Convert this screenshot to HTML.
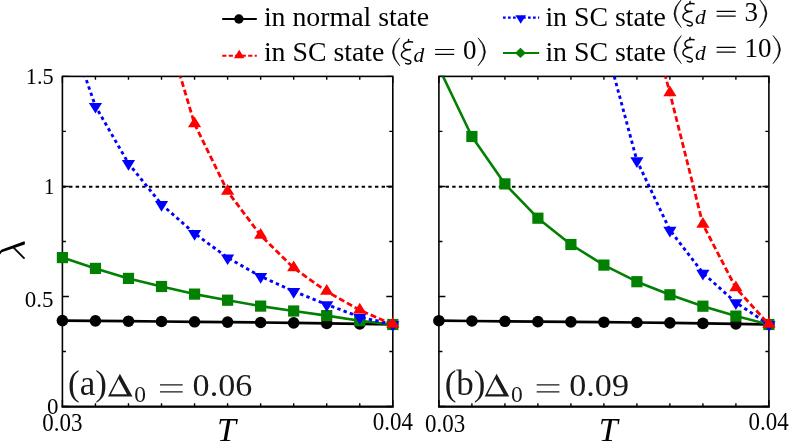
<!DOCTYPE html><html><head><meta charset="utf-8"><style>html,body{margin:0;padding:0;background:#fff;width:789px;height:441px;overflow:hidden;font-family:"Liberation Serif",serif}</style></head><body><svg width="789" height="441" viewBox="0 0 789 441" style="position:absolute;left:0;top:0;will-change:transform;opacity:0.999">
<defs><clipPath id="ca"><rect x="62.4" y="76.4" width="330.40" height="330.10"/></clipPath><clipPath id="cb"><rect x="438.9" y="76.4" width="330.00" height="330.10"/></clipPath></defs>
<path d="M62.40,406.5 v-6.5 M62.40,76.4 v6.5 M95.44,406.5 v-3.3 M95.44,76.4 v3.3 M128.48,406.5 v-3.3 M128.48,76.4 v3.3 M161.52,406.5 v-3.3 M161.52,76.4 v3.3 M194.56,406.5 v-3.3 M194.56,76.4 v3.3 M227.60,406.5 v-3.3 M227.60,76.4 v3.3 M260.64,406.5 v-3.3 M260.64,76.4 v3.3 M293.68,406.5 v-3.3 M293.68,76.4 v3.3 M326.72,406.5 v-3.3 M326.72,76.4 v3.3 M359.76,406.5 v-3.3 M359.76,76.4 v3.3 M392.80,406.5 v-6.5 M392.80,76.4 v6.5 M62.4,406.50 h6.5 M392.8,406.50 h-6.5 M62.4,351.48 h3.5 M392.8,351.48 h-3.5 M62.4,296.47 h6.5 M392.8,296.47 h-6.5 M62.4,241.45 h3.5 M392.8,241.45 h-3.5 M62.4,186.43 h6.5 M392.8,186.43 h-6.5 M62.4,131.42 h3.5 M392.8,131.42 h-3.5 M62.4,76.40 h6.5 M392.8,76.40 h-6.5" stroke="#000" stroke-width="1.4" fill="none"/>
<rect x="62.4" y="76.4" width="330.40" height="330.10" fill="none" stroke="#000" stroke-width="1.6"/><path d="M61.6,406.85 H393.6" stroke="#000" stroke-width="2" fill="none"/>
<path d="M62.4,186.78 H392.8" stroke="#000" stroke-width="2" stroke-dasharray="3.4 3.25" fill="none"/>
<g clip-path="url(#ca)"><polyline points="62.40,320.60 95.44,320.90 128.48,321.20 161.52,321.50 194.56,321.80 227.60,322.10 260.64,322.50 293.68,322.90 326.72,323.40 359.76,323.90 392.80,324.50" fill="none" stroke="#000000" stroke-width="2.7" stroke-linejoin="round"/></g>
<circle cx="62.40" cy="320.60" r="5.8" fill="#000000"/>
<circle cx="95.44" cy="320.90" r="5.8" fill="#000000"/>
<circle cx="128.48" cy="321.20" r="5.8" fill="#000000"/>
<circle cx="161.52" cy="321.50" r="5.8" fill="#000000"/>
<circle cx="194.56" cy="321.80" r="5.8" fill="#000000"/>
<circle cx="227.60" cy="322.10" r="5.8" fill="#000000"/>
<circle cx="260.64" cy="322.50" r="5.8" fill="#000000"/>
<circle cx="293.68" cy="322.90" r="5.8" fill="#000000"/>
<circle cx="326.72" cy="323.40" r="5.8" fill="#000000"/>
<circle cx="359.76" cy="323.90" r="5.8" fill="#000000"/>
<circle cx="392.80" cy="324.50" r="5.8" fill="#000000"/>
<g clip-path="url(#ca)"><polyline points="62.40,257.60 95.44,268.40 128.48,278.40 161.52,286.50 194.56,294.10 227.60,300.20 260.64,306.10 293.68,311.00 326.72,315.60 359.76,320.70 392.80,324.50" fill="none" stroke="#008000" stroke-width="2.6" stroke-linejoin="round"/></g>
<rect x="56.80" y="252.00" width="11.20" height="11.20" fill="#008000"/>
<rect x="89.84" y="262.80" width="11.20" height="11.20" fill="#008000"/>
<rect x="122.88" y="272.80" width="11.20" height="11.20" fill="#008000"/>
<rect x="155.92" y="280.90" width="11.20" height="11.20" fill="#008000"/>
<rect x="188.96" y="288.50" width="11.20" height="11.20" fill="#008000"/>
<rect x="222.00" y="294.60" width="11.20" height="11.20" fill="#008000"/>
<rect x="255.04" y="300.50" width="11.20" height="11.20" fill="#008000"/>
<rect x="288.08" y="305.40" width="11.20" height="11.20" fill="#008000"/>
<rect x="321.12" y="310.00" width="11.20" height="11.20" fill="#008000"/>
<rect x="354.16" y="315.10" width="11.20" height="11.20" fill="#008000"/>
<rect x="387.20" y="318.90" width="11.20" height="11.20" fill="#008000"/>
<g clip-path="url(#ca)"><polyline points="62.40,11.00 95.44,106.20 128.48,163.40 161.52,204.40 194.56,233.40 227.60,257.70 260.64,276.40 293.68,291.30 326.72,304.50 359.76,317.00 392.80,324.50" fill="none" stroke="#0000ff" stroke-width="2.9" stroke-dasharray="3.4 3.25" stroke-linejoin="round"/></g>
<path d="M95.44,113.59 L88.84,102.90 L102.04,102.90Z" fill="#0000ff"/>
<path d="M128.48,170.79 L121.88,160.10 L135.08,160.10Z" fill="#0000ff"/>
<path d="M161.52,211.79 L154.92,201.10 L168.12,201.10Z" fill="#0000ff"/>
<path d="M194.56,240.79 L187.96,230.10 L201.16,230.10Z" fill="#0000ff"/>
<path d="M227.60,265.09 L221.00,254.40 L234.20,254.40Z" fill="#0000ff"/>
<path d="M260.64,283.79 L254.04,273.10 L267.24,273.10Z" fill="#0000ff"/>
<path d="M293.68,298.69 L287.08,288.00 L300.28,288.00Z" fill="#0000ff"/>
<path d="M326.72,311.89 L320.12,301.20 L333.32,301.20Z" fill="#0000ff"/>
<path d="M359.76,324.39 L353.16,313.70 L366.36,313.70Z" fill="#0000ff"/>
<path d="M392.80,331.89 L386.20,321.20 L399.40,321.20Z" fill="#0000ff"/>
<g clip-path="url(#ca)"><polyline points="161.52,13.00 194.56,124.00 227.60,191.40 260.64,235.40 293.68,268.00 326.72,291.50 359.76,310.10 392.80,324.50" fill="none" stroke="#ff0000" stroke-width="2.8" stroke-dasharray="5.9 3.0" stroke-linejoin="round"/></g>
<path d="M194.56,116.61 L187.96,127.30 L201.16,127.30Z" fill="#ff0000"/>
<path d="M227.60,184.01 L221.00,194.70 L234.20,194.70Z" fill="#ff0000"/>
<path d="M260.64,228.01 L254.04,238.70 L267.24,238.70Z" fill="#ff0000"/>
<path d="M293.68,260.61 L287.08,271.30 L300.28,271.30Z" fill="#ff0000"/>
<path d="M326.72,284.11 L320.12,294.80 L333.32,294.80Z" fill="#ff0000"/>
<path d="M359.76,302.71 L353.16,313.40 L366.36,313.40Z" fill="#ff0000"/>
<path d="M392.80,317.11 L386.20,327.80 L399.40,327.80Z" fill="#ff0000"/>
<path d="M438.90,406.5 v-6.5 M438.90,76.4 v6.5 M471.90,406.5 v-3.3 M471.90,76.4 v3.3 M504.90,406.5 v-3.3 M504.90,76.4 v3.3 M537.90,406.5 v-3.3 M537.90,76.4 v3.3 M570.90,406.5 v-3.3 M570.90,76.4 v3.3 M603.90,406.5 v-3.3 M603.90,76.4 v3.3 M636.90,406.5 v-3.3 M636.90,76.4 v3.3 M669.90,406.5 v-3.3 M669.90,76.4 v3.3 M702.90,406.5 v-3.3 M702.90,76.4 v3.3 M735.90,406.5 v-3.3 M735.90,76.4 v3.3 M768.90,406.5 v-6.5 M768.90,76.4 v6.5 M438.9,406.50 h6.5 M768.9,406.50 h-6.5 M438.9,351.48 h3.5 M768.9,351.48 h-3.5 M438.9,296.47 h6.5 M768.9,296.47 h-6.5 M438.9,241.45 h3.5 M768.9,241.45 h-3.5 M438.9,186.43 h6.5 M768.9,186.43 h-6.5 M438.9,131.42 h3.5 M768.9,131.42 h-3.5 M438.9,76.40 h6.5 M768.9,76.40 h-6.5" stroke="#000" stroke-width="1.4" fill="none"/>
<rect x="438.9" y="76.4" width="330.00" height="330.10" fill="none" stroke="#000" stroke-width="1.6"/><path d="M438.09999999999997,406.85 H769.6999999999999" stroke="#000" stroke-width="2" fill="none"/>
<path d="M438.9,186.78 H768.9" stroke="#000" stroke-width="2" stroke-dasharray="3.4 3.25" fill="none"/>
<g clip-path="url(#cb)"><polyline points="438.90,320.70 471.90,321.00 504.90,321.30 537.90,321.60 570.90,321.90 603.90,322.20 636.90,322.50 669.90,322.90 702.90,323.40 735.90,323.90 768.90,324.50" fill="none" stroke="#000000" stroke-width="2.7" stroke-linejoin="round"/></g>
<circle cx="438.90" cy="320.70" r="5.8" fill="#000000"/>
<circle cx="471.90" cy="321.00" r="5.8" fill="#000000"/>
<circle cx="504.90" cy="321.30" r="5.8" fill="#000000"/>
<circle cx="537.90" cy="321.60" r="5.8" fill="#000000"/>
<circle cx="570.90" cy="321.90" r="5.8" fill="#000000"/>
<circle cx="603.90" cy="322.20" r="5.8" fill="#000000"/>
<circle cx="636.90" cy="322.50" r="5.8" fill="#000000"/>
<circle cx="669.90" cy="322.90" r="5.8" fill="#000000"/>
<circle cx="702.90" cy="323.40" r="5.8" fill="#000000"/>
<circle cx="735.90" cy="323.90" r="5.8" fill="#000000"/>
<circle cx="768.90" cy="324.50" r="5.8" fill="#000000"/>
<g clip-path="url(#cb)"><polyline points="438.90,67.80 471.90,136.50 504.90,183.90 537.90,218.20 570.90,244.50 603.90,265.10 636.90,281.70 669.90,294.80 702.90,306.20 735.90,316.10 768.90,324.50" fill="none" stroke="#008000" stroke-width="2.6" stroke-linejoin="round"/></g>
<rect x="466.30" y="130.90" width="11.20" height="11.20" fill="#008000"/>
<rect x="499.30" y="178.30" width="11.20" height="11.20" fill="#008000"/>
<rect x="532.30" y="212.60" width="11.20" height="11.20" fill="#008000"/>
<rect x="565.30" y="238.90" width="11.20" height="11.20" fill="#008000"/>
<rect x="598.30" y="259.50" width="11.20" height="11.20" fill="#008000"/>
<rect x="631.30" y="276.10" width="11.20" height="11.20" fill="#008000"/>
<rect x="664.30" y="289.20" width="11.20" height="11.20" fill="#008000"/>
<rect x="697.30" y="300.60" width="11.20" height="11.20" fill="#008000"/>
<rect x="730.30" y="310.50" width="11.20" height="11.20" fill="#008000"/>
<rect x="763.30" y="318.90" width="11.20" height="11.20" fill="#008000"/>
<g clip-path="url(#cb)"><polyline points="603.90,37.90 636.90,160.60 669.90,230.00 702.90,273.00 735.90,302.60 768.90,324.50" fill="none" stroke="#0000ff" stroke-width="2.9" stroke-dasharray="3.4 3.25" stroke-linejoin="round"/></g>
<path d="M636.90,167.99 L630.30,157.30 L643.50,157.30Z" fill="#0000ff"/>
<path d="M669.90,237.39 L663.30,226.70 L676.50,226.70Z" fill="#0000ff"/>
<path d="M702.90,280.39 L696.30,269.70 L709.50,269.70Z" fill="#0000ff"/>
<path d="M735.90,309.99 L729.30,299.30 L742.50,299.30Z" fill="#0000ff"/>
<path d="M768.90,331.89 L762.30,321.20 L775.50,321.20Z" fill="#0000ff"/>
<g clip-path="url(#cb)"><polyline points="636.90,-30.00 669.90,93.00 702.90,224.40 735.90,288.00 768.90,324.50" fill="none" stroke="#ff0000" stroke-width="2.8" stroke-dasharray="5.9 3.0" stroke-linejoin="round"/></g>
<path d="M669.90,85.61 L663.30,96.30 L676.50,96.30Z" fill="#ff0000"/>
<path d="M702.90,217.01 L696.30,227.70 L709.50,227.70Z" fill="#ff0000"/>
<path d="M735.90,280.61 L729.30,291.30 L742.50,291.30Z" fill="#ff0000"/>
<path d="M768.90,317.11 L762.30,327.80 L775.50,327.80Z" fill="#ff0000"/>
<text transform="translate(53.6,84.2) scale(0.97,1.03)" font-family="'Liberation Serif', serif" font-size="23" text-anchor="end" fill="#000">1.5</text>
<text transform="translate(54.4,194.4) scale(0.9,1.03)" font-family="'Liberation Serif', serif" font-size="23" text-anchor="end" fill="#000">1</text>
<text transform="translate(53.6,306.7) scale(1,1.03)" font-family="'Liberation Serif', serif" font-size="23" text-anchor="end" fill="#000">0.5</text>
<text transform="translate(58.4,414.1) scale(1,1.03)" font-family="'Liberation Serif', serif" font-size="23" text-anchor="end" fill="#000">0</text>
<text transform="translate(62.4,431.4) scale(1,1.075)" font-family="'Liberation Serif', serif" font-size="23" text-anchor="middle" fill="#000">0.03</text>
<text transform="translate(392.8,429.5) scale(1,1.075)" font-family="'Liberation Serif', serif" font-size="23" text-anchor="middle" fill="#000">0.04</text>
<text transform="translate(445.2,431.5) scale(1,1.075)" font-family="'Liberation Serif', serif" font-size="23" text-anchor="middle" fill="#000">0.03</text>
<text transform="translate(768.6,429.5) scale(1,1.075)" font-family="'Liberation Serif', serif" font-size="23" text-anchor="middle" fill="#000">0.04</text>
<text x="226.5" y="441" font-family="'Liberation Serif', serif" font-size="34" text-anchor="middle" fill="#000" font-style="italic">T</text>
<text x="608.3" y="441" font-family="'Liberation Serif', serif" font-size="34" text-anchor="middle" fill="#000" font-style="italic">T</text>
<path d="M0,251.0 L1.8,249.5 L24.3,241.2 L24.95,242.2 L24.7,244.5 L1.8,252.2 L0,254.6Z" fill="#000"/>
<path d="M13.6,247.7 L24,258.1" stroke="#000" stroke-width="1.8" stroke-linecap="round" fill="none"/>
<text x="68" y="395.3" font-family="'Liberation Serif', serif" font-size="35" text-anchor="start" fill="#1a1a1a" >(a)</text>
<path fill-rule="evenodd" fill="#1a1a1a" d="M108.00,396.50 L119.90,373.70 L132.50,396.50Z M110.90,394.30 L127.00,394.30 L118.60,378.90Z"/>
<text x="134.2" y="402.1" font-family="'Liberation Serif', serif" font-size="23.5" text-anchor="start" fill="#1a1a1a" >0</text>
<path d="M160,384.90000000000003 h22.7 M160,391.8 h22.7" stroke="#1a1a1a" stroke-width="1.3"/>
<text transform="translate(192.6,395.90000000000003) scale(1.1,1)" font-family="'Liberation Serif', serif" font-size="31" fill="#1a1a1a">0.06</text>
<text x="444.7" y="395.3" font-family="'Liberation Serif', serif" font-size="35" text-anchor="start" fill="#1a1a1a" >(b)</text>
<path fill-rule="evenodd" fill="#1a1a1a" d="M484.70,396.50 L496.60,373.70 L509.20,396.50Z M487.60,394.30 L503.70,394.30 L495.30,378.90Z"/>
<text x="510.9" y="402.1" font-family="'Liberation Serif', serif" font-size="23.5" text-anchor="start" fill="#1a1a1a" >0</text>
<path d="M536.7,384.90000000000003 h22.7 M536.7,391.8 h22.7" stroke="#1a1a1a" stroke-width="1.3"/>
<text transform="translate(569.3,395.90000000000003) scale(1.1,1)" font-family="'Liberation Serif', serif" font-size="31" fill="#1a1a1a">0.09</text>
<path d="M222.2,19.0 H256.8" stroke="#000" stroke-width="2"/>
<circle cx="238.9" cy="19.0" r="4.7" fill="#000"/>
<text x="263.9" y="25.6" font-family="'Liberation Serif', serif" font-size="27.8" text-anchor="start" fill="#000" >in normal state</text>
<path d="M222.2,55.7 H256.8" stroke="#ff0000" stroke-width="2" stroke-dasharray="4.2 2.3"/>
<path d="M239.20,49.76 L233.90,58.35 L244.50,58.35Z" fill="#ff0000"/>
<text x="263.9" y="61.1" font-family="'Liberation Serif', serif" font-size="27.8" text-anchor="start" fill="#000" >in SC state</text>
<path d="M399.80,37.80 Q385.20,51.80 399.80,65.80 Q387.90,51.80 399.80,37.80Z" fill="#000" stroke="#000" stroke-width="0.6" stroke-linejoin="round"/>
<path transform="translate(401.30,59.70) scale(0.96,1)" d="M7.6,-20.1 L7.2,-17.9 M11.7,-17.7 C7.7,-18.7 2.2,-17.2 2.2,-13.4 C2.2,-10.7 5.2,-9.6 9.5,-10.2 C3.7,-9.7 0.1,-7.7 0.1,-4.6 C0.1,-1.2 4.7,-0.4 8.3,0.6 C10.7,1.4 10.7,4.3 7.2,4.4 C6,4.4 5.2,4.0 4.6,3.7" fill="none" stroke="#000" stroke-width="1.5" stroke-linecap="round" stroke-linejoin="round"/>
<text x="413.5" y="62.2" font-family="'Liberation Serif', serif" font-size="21.5" text-anchor="start" fill="#000" font-style="italic">d</text>
<path d="M435.1,49.5 h19.1 M435.1,54.300000000000004 h19.1" stroke="#000" stroke-width="1.2"/>
<text x="463.0" y="59.2" font-family="'Liberation Serif', serif" font-size="27" text-anchor="start" fill="#000" >0</text>
<path d="M478.10,37.80 Q492.70,51.80 478.10,65.80 Q490.00,51.80 478.10,37.80Z" fill="#000" stroke="#000" stroke-width="0.6" stroke-linejoin="round"/>
<path d="M503,17.7 H539.2" stroke="#0000ff" stroke-width="2.2" stroke-dasharray="2.7 2.3"/>
<path d="M520.70,23.84 L515.40,15.25 L526.00,15.25Z" fill="#0000ff"/>
<text x="545.4" y="25.8" font-family="'Liberation Serif', serif" font-size="27.8" text-anchor="start" fill="#000" >in SC state</text>
<path d="M681.30,-0.40 Q666.70,13.60 681.30,27.60 Q669.40,13.60 681.30,-0.40Z" fill="#000" stroke="#000" stroke-width="0.6" stroke-linejoin="round"/>
<path transform="translate(682.80,21.50) scale(0.96,1)" d="M7.6,-20.1 L7.2,-17.9 M11.7,-17.7 C7.7,-18.7 2.2,-17.2 2.2,-13.4 C2.2,-10.7 5.2,-9.6 9.5,-10.2 C3.7,-9.7 0.1,-7.7 0.1,-4.6 C0.1,-1.2 4.7,-0.4 8.3,0.6 C10.7,1.4 10.7,4.3 7.2,4.4 C6,4.4 5.2,4.0 4.6,3.7" fill="none" stroke="#000" stroke-width="1.5" stroke-linecap="round" stroke-linejoin="round"/>
<text x="695.0" y="24.0" font-family="'Liberation Serif', serif" font-size="21.5" text-anchor="start" fill="#000" font-style="italic">d</text>
<path d="M716.6,11.3 h19.1 M716.6,16.1 h19.1" stroke="#000" stroke-width="1.2"/>
<text x="744.5" y="21" font-family="'Liberation Serif', serif" font-size="27" text-anchor="start" fill="#000" >3</text>
<path d="M759.60,-0.40 Q774.20,13.60 759.60,27.60 Q771.50,13.60 759.60,-0.40Z" fill="#000" stroke="#000" stroke-width="0.6" stroke-linejoin="round"/>
<path d="M503,52.9 H539.2" stroke="#008000" stroke-width="2"/>
<path d="M520.5,47.8 L525.9,52.9 L520.5,58 L515.1,52.9Z" fill="#008000"/>
<text x="545.4" y="61.3" font-family="'Liberation Serif', serif" font-size="27.8" text-anchor="start" fill="#000" >in SC state</text>
<path d="M681.30,35.60 Q666.70,49.60 681.30,63.60 Q669.40,49.60 681.30,35.60Z" fill="#000" stroke="#000" stroke-width="0.6" stroke-linejoin="round"/>
<path transform="translate(682.80,57.50) scale(0.96,1)" d="M7.6,-20.1 L7.2,-17.9 M11.7,-17.7 C7.7,-18.7 2.2,-17.2 2.2,-13.4 C2.2,-10.7 5.2,-9.6 9.5,-10.2 C3.7,-9.7 0.1,-7.7 0.1,-4.6 C0.1,-1.2 4.7,-0.4 8.3,0.6 C10.7,1.4 10.7,4.3 7.2,4.4 C6,4.4 5.2,4.0 4.6,3.7" fill="none" stroke="#000" stroke-width="1.5" stroke-linecap="round" stroke-linejoin="round"/>
<text x="695.0" y="60.0" font-family="'Liberation Serif', serif" font-size="21.5" text-anchor="start" fill="#000" font-style="italic">d</text>
<path d="M716.6,47.3 h19.1 M716.6,52.1 h19.1" stroke="#000" stroke-width="1.2"/>
<text x="744.5" y="57" font-family="'Liberation Serif', serif" font-size="27" text-anchor="start" fill="#000" >10</text>
<path d="M773.10,35.60 Q787.70,49.60 773.10,63.60 Q785.00,49.60 773.10,35.60Z" fill="#000" stroke="#000" stroke-width="0.6" stroke-linejoin="round"/>
</svg></body></html>
